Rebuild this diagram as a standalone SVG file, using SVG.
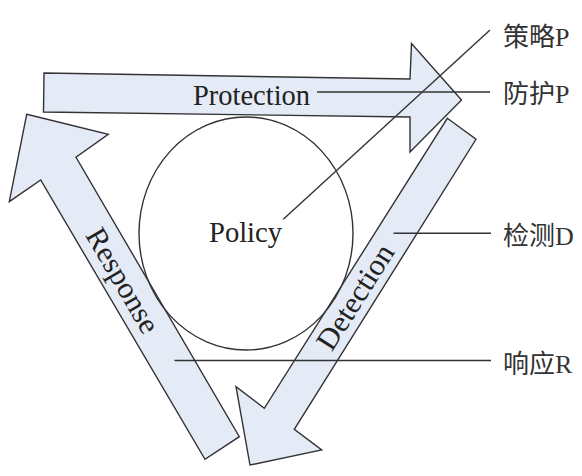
<svg xmlns="http://www.w3.org/2000/svg" width="582" height="476" viewBox="0 0 582 476">
<style>
.arrow{fill:#e4ebf7;stroke:#333;stroke-width:1.4;stroke-linejoin:miter}
.lbl{font-family:"Liberation Serif","Times New Roman",serif;font-size:30px;fill:#222}
.cn{font-family:"Liberation Serif","Noto Sans CJK SC",serif;font-size:26px;fill:#333}
.ln{stroke:#333;stroke-width:1.4;fill:none}
</style>
<rect width="582" height="476" fill="#fff"/>
<g id="protection">
<polygon class="arrow" points="44,73 410,79 411.5,43.5 461.5,100 410,152 410,117 43.5,112"/>
<text class="lbl" x="193" y="105" textLength="117" lengthAdjust="spacingAndGlyphs">Protection</text>
</g>
<g id="response">
<polygon class="arrow" points="26.7,114.3 108.3,134.3 76,157.3 239.3,436.7 205,459.3 40.7,180 9.3,201.7"/>
<text class="lbl" transform="translate(122,281) rotate(59.8)" x="0" y="9" text-anchor="middle" textLength="117" lengthAdjust="spacingAndGlyphs">Response</text>
</g>
<g id="detection">
<polygon class="arrow" points="447.3,118.3 476,139.3 294.3,429.3 321.7,450 250,465 236,386.7 264.3,408.3"/>
<text class="lbl" transform="translate(356,297.5) rotate(-57.7)" x="0" y="9" text-anchor="middle" textLength="119" lengthAdjust="spacingAndGlyphs">Detection</text>
</g>
<g id="policy">
<ellipse cx="246" cy="233.5" rx="107" ry="116.5" fill="none" stroke="#333" stroke-width="1.4"/>
<text class="lbl" x="209" y="241.7" textLength="73" lengthAdjust="spacingAndGlyphs">Policy</text>
</g>
<g id="connectors">
<line class="ln" x1="490" y1="30" x2="283.3" y2="219.3"/>
<line class="ln" x1="317" y1="92" x2="490" y2="92"/>
<line class="ln" x1="393.5" y1="233.3" x2="491" y2="233.3"/>
<line class="ln" x1="174.5" y1="360.5" x2="491" y2="360.5"/>
</g>
<g id="labels">
<text class="cn" x="503" y="46">策略P</text>
<text class="cn" x="503" y="103">防护P</text>
<text class="cn" x="503" y="245">检测D</text>
<text class="cn" x="503" y="373">响应R</text>
</g>
</svg>
